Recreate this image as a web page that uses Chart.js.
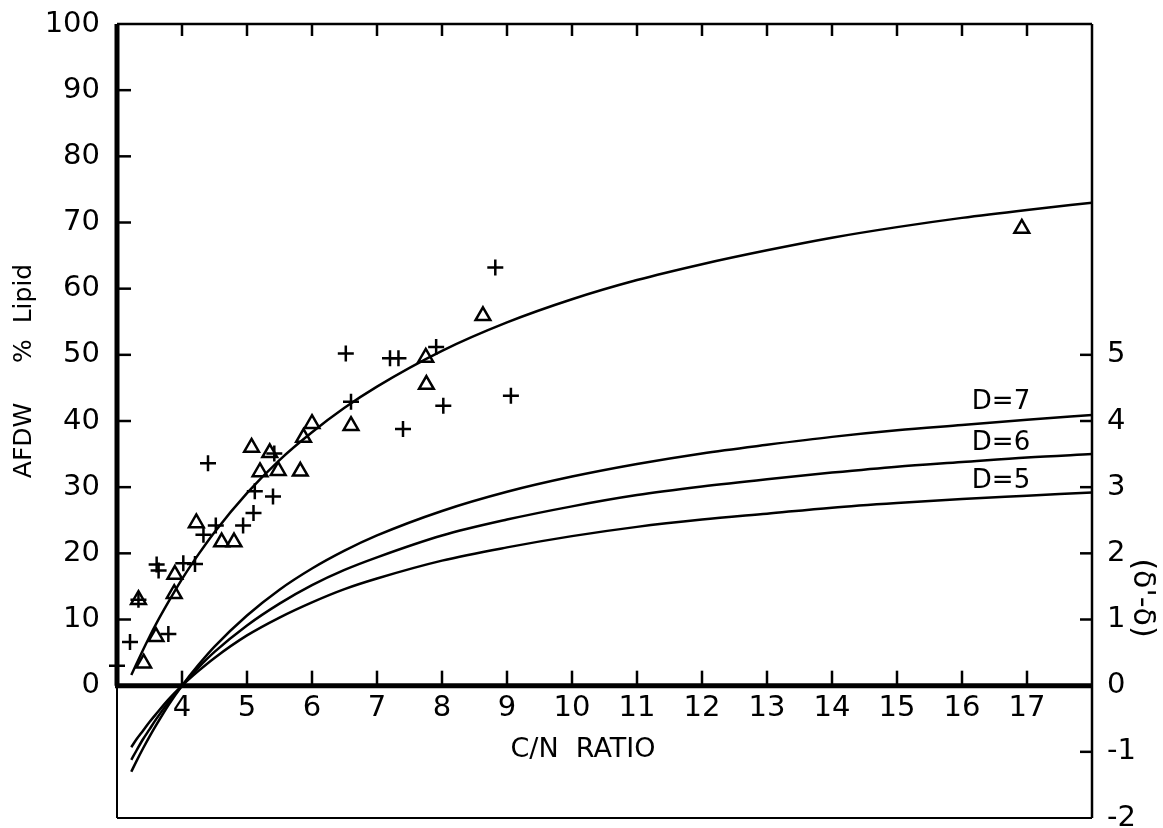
<!DOCTYPE html>
<html>
<head>
<meta charset="utf-8">
<script src="https://cdn.jsdelivr.net/npm/chart.js@4.4.0/dist/chart.umd.min.js"></script>
<style>
  html, body { margin: 0; padding: 0; background: #fff; }
  #wrap { width: 1163px; height: 828px; }
</style>
</head>
<body>
<div id="wrap"><canvas id="lipidChart"></canvas></div>
<script>
// ── Values ──
// open triangles
const triangleCN    = [3.33, 3.41, 3.60, 3.88, 3.89, 4.22, 4.61, 4.80, 5.07, 5.20, 5.35, 5.48, 5.82, 5.87, 6.00, 6.60, 7.75, 7.76, 8.63, 16.92];
const triangleLipid = [13.0, 3.4, 7.4, 13.9, 16.8, 24.6, 21.7, 21.7, 36.0, 32.3, 35.2, 32.5, 32.4, 37.5, 39.6, 39.3, 49.6, 45.5, 55.9, 69.1];

// plus signs
const plusCN    = [3.00, 3.20, 3.33, 3.61, 3.64, 3.79, 4.02, 4.20, 4.33, 4.40, 4.52, 4.94, 5.10, 5.12, 5.40, 5.42, 6.52, 6.60, 7.20, 7.33, 7.40, 7.91, 8.02, 8.82, 9.06];
const plusLipid = [3.0, 6.6, 13.0, 18.3, 17.4, 7.8, 18.5, 18.4, 22.8, 33.6, 24.2, 24.2, 26.1, 29.4, 28.6, 35.1, 50.2, 42.9, 49.5, 49.5, 38.8, 51.2, 42.3, 63.2, 43.8];

// fitted curves (left axis: % lipid, right axis: D curves)
const curveCN    = [3.22, 3.3, 3.4, 3.5, 3.6, 3.8, 4.0, 4.25, 4.5, 5, 5.5, 6, 6.5, 7, 8, 9, 10, 11, 12, 13, 14, 15, 16, 17, 18];
const lipidCurve = [1.6, 3.3, 5.4, 7.4, 9.3, 12.8, 16.1, 19.8, 23.2, 29.1, 34.1, 38.3, 42.0, 45.2, 50.6, 54.9, 58.4, 61.3, 63.7, 65.8, 67.7, 69.3, 70.7, 71.9, 73.0];
const d7Curve = [-1.30, -1.14, -0.95, -0.77, -0.60, -0.28, 0.0, 0.31, 0.59, 1.06, 1.45, 1.77, 2.04, 2.27, 2.64, 2.93, 3.16, 3.35, 3.51, 3.64, 3.76, 3.86, 3.94, 4.02, 4.09];
const d6Curve = [-1.12, -0.98, -0.81, -0.66, -0.51, -0.24, 0.0, 0.27, 0.51, 0.91, 1.24, 1.52, 1.75, 1.94, 2.27, 2.51, 2.71, 2.88, 3.01, 3.12, 3.22, 3.31, 3.38, 3.45, 3.50];
const d5Curve = [-0.93, -0.81, -0.68, -0.55, -0.43, -0.20, 0.0, 0.22, 0.42, 0.76, 1.03, 1.26, 1.46, 1.62, 1.89, 2.09, 2.26, 2.40, 2.51, 2.60, 2.69, 2.76, 2.82, 2.87, 2.92];
const curveNames = ['D=7', 'D=6', 'D=5'];

// tick labels
const xTicks  = [4, 5, 6, 7, 8, 9, 10, 11, 12, 13, 14, 15, 16, 17];
const yTicks  = [0, 10, 20, 30, 40, 50, 60, 70, 80, 90, 100];
const y2Ticks = [-2, -1, 0, 1, 2, 3, 4, 5];

const pairs = (xs, ys) => xs.map((v, i) => ({ x: v, y: ys[i] }));
const tickFont = { family: 'DejaVu Sans', size: 29 };

// fixed axis widths, no label overhang padding (frame is fixed like the print)
const fixWidth = w => s => {
  s.width = w;
  s.paddingTop = 0;
  s.paddingBottom = 0;
};

// ── Frame, inward ticks and titles ──
const framePlugin = {
  id: 'frame',
  afterDatasetsDraw(chart) {
    const { ctx, chartArea: a, scales: { x, y, y2 } } = chart;
    const y0 = y.getPixelForValue(0);
    const yTop = y.getPixelForValue(100);
    const line = (x1, y1, x2, y2_, w) => {
      ctx.beginPath();
      ctx.moveTo(x1, y1);
      ctx.lineTo(x2, y2_);
      ctx.lineWidth = w;
      ctx.stroke();
    };
    ctx.save();
    ctx.strokeStyle = '#000';
    ctx.fillStyle = '#000';

    // outer box
    line(a.left, a.top, a.right, a.top, 2.5);
    line(a.right, a.top, a.right, a.bottom, 2.5);
    line(a.left, a.bottom, a.right, a.bottom, 2);
    line(a.left, y0, a.left, a.bottom, 2);
    // heavy axes
    line(a.left, yTop, a.left, y0, 5);
    line(a.left - 2, y0, a.right, y0, 5);

    // ticks
    xTicks.forEach(v => {
      const px = x.getPixelForValue(v);
      line(px, y0, px, y0 - 15, 2.5);
      line(px, a.top, px, a.top + 12, 2.5);
    });
    yTicks.forEach(v => {
      if (v === 0 || v === 100) return;
      const py = y.getPixelForValue(v);
      line(a.left, py, a.left + 14, py, 2.5);
    });
    y2Ticks.forEach(v => {
      if (v === 0 || v === -2) return;
      const py = y2.getPixelForValue(v);
      line(a.right, py, a.right - 12, py, 2.5);
    });

    // curve labels
    ctx.font = '26px "DejaVu Sans"';
    ctx.textAlign = 'center';
    ctx.textBaseline = 'middle';
    const labelY = [4.29, 3.67, 3.09];
    curveNames.forEach((t, i) => {
      ctx.fillText(t, x.getPixelForValue(16.6), y2.getPixelForValue(labelY[i]));
    });

    // axis titles
    ctx.font = '27px "DejaVu Sans"';
    ctx.fillText('C/N  RATIO', 583, 750);

    ctx.save();
    ctx.translate(24, 371);
    ctx.rotate(-Math.PI / 2);
    ctx.font = '25px "DejaVu Sans"';
    ctx.fillText('AFDW     %  Lipid', 0, 0);
    ctx.restore();

    ctx.save();
    ctx.translate(1142, 598);
    ctx.rotate(Math.PI / 2);
    ctx.font = '30px "DejaVu Sans"';
    ctx.fillText("(δ'-δ)", 0, 0);
    ctx.restore();

    ctx.restore();
  }
};

const curveStyle = {
  type: 'line',
  borderColor: '#000',
  borderWidth: 2.5,
  pointRadius: 0,
  fill: false,
  cubicInterpolationMode: 'monotone',
};

new Chart(document.getElementById('lipidChart'), {
  type: 'scatter',
  data: {
    datasets: [
      { ...curveStyle, label: 'Lipid', data: pairs(curveCN, lipidCurve), yAxisID: 'y' },
      { ...curveStyle, label: curveNames[0], data: pairs(curveCN, d7Curve), yAxisID: 'y2' },
      { ...curveStyle, label: curveNames[1], data: pairs(curveCN, d6Curve), yAxisID: 'y2' },
      { ...curveStyle, label: curveNames[2], data: pairs(curveCN, d5Curve), yAxisID: 'y2' },
      {
        label: 'triangles',
        data: pairs(triangleCN, triangleLipid),
        yAxisID: 'y',
        pointStyle: 'triangle',
        pointRadius: 8.5,
        borderColor: '#000',
        backgroundColor: 'rgba(0,0,0,0)',
        borderWidth: 2.5,
        clip: false,
      },
      {
        label: 'plus',
        data: pairs(plusCN, plusLipid),
        yAxisID: 'y',
        pointStyle: 'cross',
        pointRadius: 8,
        borderColor: '#000',
        borderWidth: 2.5,
        clip: false,
      },
    ]
  },
  options: {
    responsive: true,
    maintainAspectRatio: false,
    animation: false,
    events: [],
    layout: { autoPadding: false, padding: { top: 24, bottom: 10, left: 0, right: 0 } },
    plugins: { legend: { display: false }, tooltip: { enabled: false } },
    scales: {
      x: {
        type: 'linear',
        min: 3,
        max: 18,
        position: { y: 0 },
        afterBuildTicks: s => { s.ticks = xTicks.map(v => ({ value: v })); },
        afterFit: s => { s.paddingLeft = 0; s.paddingRight = 0; },
        grid: { display: false, drawTicks: false },
        border: { display: false },
        ticks: { font: tickFont, color: '#000', padding: 5, maxRotation: 0, autoSkip: false },
      },
      y: {
        type: 'linear',
        position: 'left',
        min: -20,
        max: 100,
        afterBuildTicks: s => { s.ticks = yTicks.map(v => ({ value: v })); },
        afterFit: fixWidth(117),
        grid: { display: false, drawTicks: false },
        border: { display: false },
        ticks: { font: tickFont, color: '#000', padding: 17, autoSkip: false },
      },
      y2: {
        type: 'linear',
        position: 'right',
        min: -2,
        max: 10,
        afterBuildTicks: s => { s.ticks = y2Ticks.map(v => ({ value: v })); },
        afterFit: fixWidth(71),
        grid: { display: false, drawTicks: false },
        border: { display: false },
        ticks: { font: tickFont, color: '#000', padding: 15, autoSkip: false },
      },
    }
  },
  plugins: [framePlugin]
});
</script>
</body>
</html>
